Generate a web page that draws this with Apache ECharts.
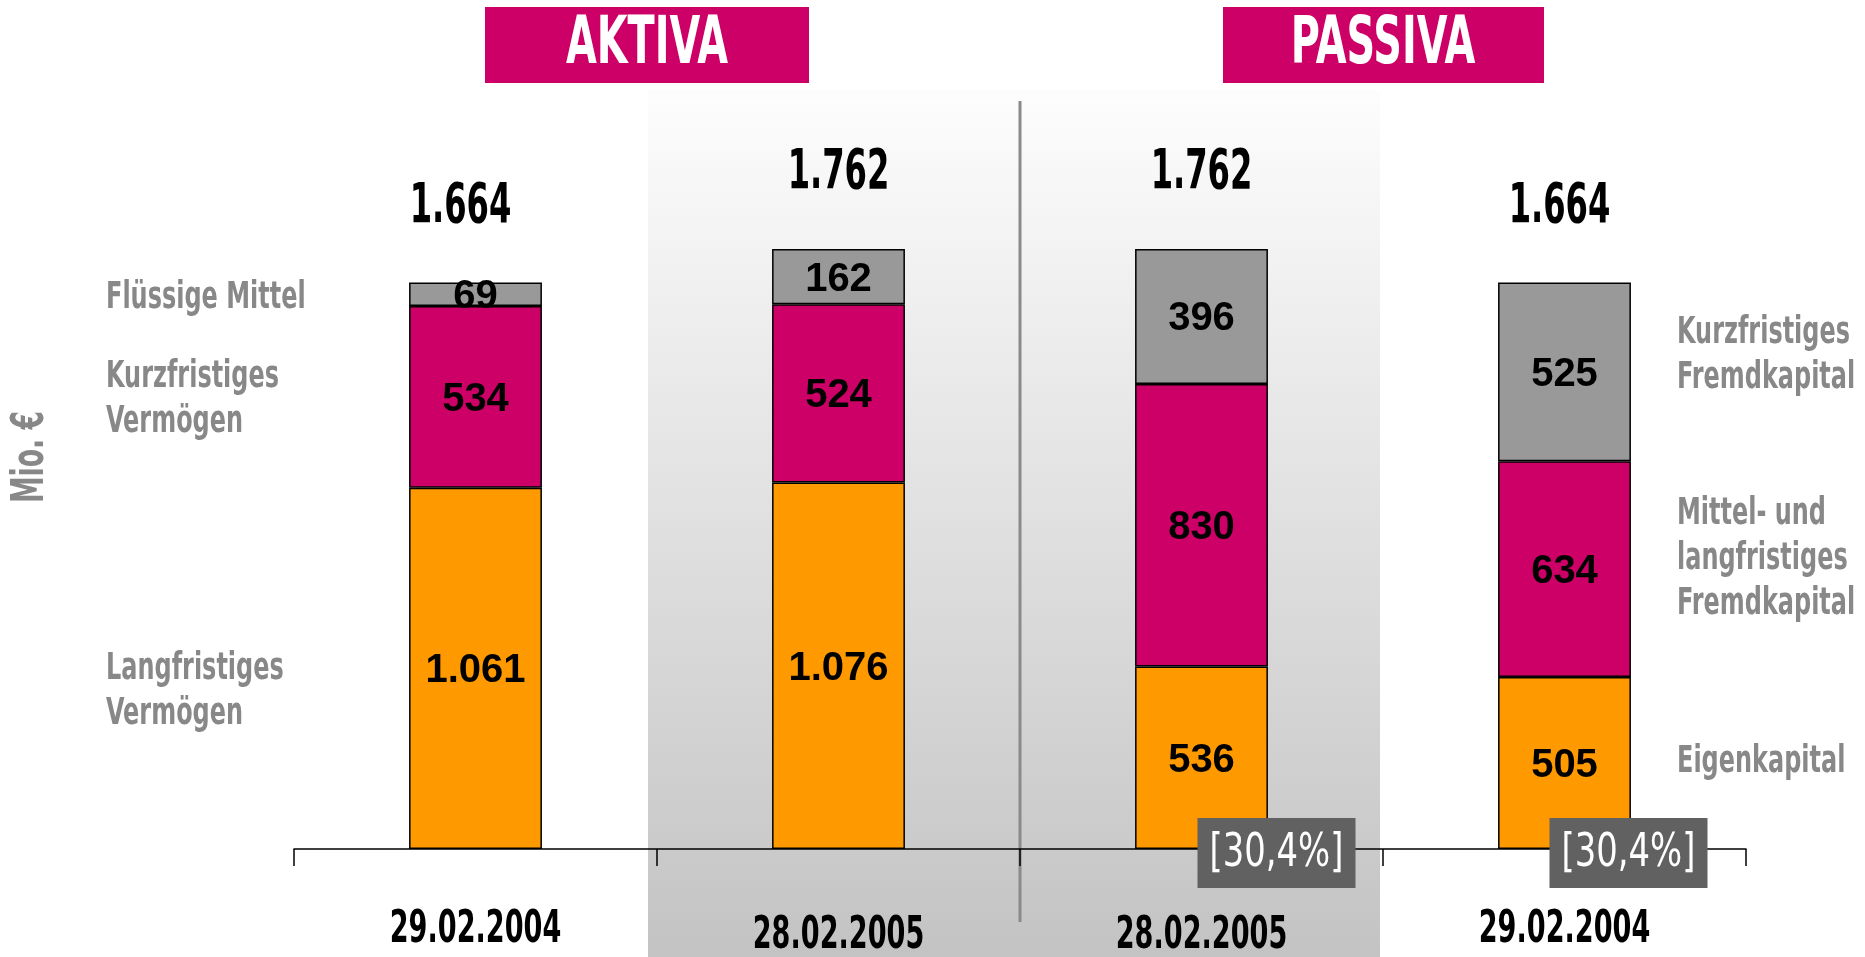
<!DOCTYPE html>
<html><head><meta charset="utf-8">
<script src="https://cdn.jsdelivr.net/npm/echarts@6/dist/echarts.min.js"></script>
<style>html,body{margin:0;padding:0;background:#fff;}#c{width:1865px;height:957px;}</style>
</head><body><div id="c"></div>
<script>
const categories = ['29.02.2004', '28.02.2005', '28.02.2005', '29.02.2004'];
const bottomValues = [1061, 1076, 536, 505];   // Langfristiges Vermögen / Eigenkapital
const middleValues = [534, 524, 830, 634];     // Kurzfristiges Vermögen / Mittel- und langfristiges FK
const topValues = [69, 162, 396, 525];         // Flüssige Mittel / Kurzfristiges FK
const totals = [1664, 1762, 1762, 1664];
const ratioLabels = ['', '', '[30,4%]', '[30,4%]'];
const groupTitles = ['AKTIVA', 'PASSIVA'];
const leftLabels = ['Flüssige Mittel', 'Kurzfristiges\nVermögen', 'Langfristiges\nVermögen'];
const rightLabels = ['Kurzfristiges\nFremdkapital', 'Mittel- und\nlangfristiges\nFremdkapital', 'Eigenkapital'];
const yUnit = 'Mio. €';

const COND = "'DejaVu Sans Condensed','Liberation Sans Narrow',sans-serif";
const SANS = "'Liberation Sans',Arial,sans-serif";
const fmt = v => String(v).replace(/\B(?=(\d{3})+(?!\d))/g, '.');

const ORANGE = '#FF9900', MAGENTA = '#CC0066', GREY = '#999999';

const chart = echarts.init(document.getElementById('c'), null, {renderer: 'canvas'});

function barSeries(name, data, color) {
  return {
    name, type: 'bar', stack: 'bal', data, barWidth: '36.6%',
    itemStyle: {color, borderColor: '#000', borderWidth: 1.5},
    label: {show: true, position: 'inside', offset: [0, 3], formatter: p => fmt(p.value),
      color: '#000', fontSize: 40, fontWeight: 'bold', fontFamily: SANS},
    z: 3
  };
}

chart.setOption({
  animation: false,
  grid: {left: 294, right: 119, top: 168, bottom: 108},
  xAxis: {
    type: 'category', data: categories,
    axisLine: {show: true, lineStyle: {color: '#000', width: 1.5}},
    axisTick: {show: true, length: 17, lineStyle: {color: '#000', width: 1.5}},
    axisLabel: {show: false},
    z: 5
  },
  yAxis: {type: 'value', min: 0, max: 2000, show: false},
  series: [
    barSeries('bottom', bottomValues, ORANGE),
    barSeries('middle', middleValues, MAGENTA),
    barSeries('top', topValues, GREY)
  ]
});

// condensed text helper (scaled horizontally to imitate the condensed typeface)
function ctext(x, y, text, size, weight, fill, sx, align, extra) {
  return Object.assign({
    type: 'text', x, y, scaleX: sx, z: 30, silent: true,
    style: {text, font: weight + ' ' + size + 'px ' + COND, fill,
      textAlign: align || 'center', textVerticalAlign: 'middle'}
  }, extra || {});
}

const px = (i, v) => chart.convertToPixel({xAxisIndex: 0, yAxisIndex: 0}, [i, v]);
const cxs = categories.map((c, i) => px(i, 0)[0]);
const axisY = px(0, 0)[1];
const b01 = (cxs[0] + cxs[1]) / 2, b12 = (cxs[1] + cxs[2]) / 2, b23 = (cxs[2] + cxs[3]) / 2;

const graphic = [
  {type: 'rect', z: -10, silent: true,
    shape: {x: b01 - 9, y: 90, width: (b23 - 3) - (b01 - 9), height: 957 - 90},
    style: {fill: new echarts.graphic.LinearGradient(0, 0, 0, 1, [
      {offset: 0, color: '#fdfdfd'}, {offset: 1, color: '#c3c3c3'}])}},
  {type: 'line', z: 1, silent: true, shape: {x1: b12, y1: 101, x2: b12, y2: 922},
    style: {stroke: '#8a8a8a', lineWidth: 3}},
  {type: 'rect', z: 1, shape: {x: 485, y: 7, width: 324, height: 76}, style: {fill: MAGENTA}},
  {type: 'rect', z: 1, shape: {x: 1223, y: 7, width: 321, height: 76}, style: {fill: MAGENTA}},
  ctext(647, 46, groupTitles[0], 66, 'bold', '#fff', 0.67),
  ctext(1383, 46, groupTitles[1], 66, 'bold', '#fff', 0.67),
  ctext(31, 457, yUnit, 45, 'bold', '#888', 0.66, 'center', {rotation: Math.PI / 2})
];

// totals above each stack
const totalShift = [-15, 0, 0, -5];
totals.forEach((t, i) => {
  const p = px(i, t);
  graphic.push(ctext(p[0] + totalShift[i], p[1] - 75, fmt(t), 55, 'bold', '#000', 0.65));
});

// category labels under the axis
categories.forEach((c, i) => {
  const dy = (i === 1 || i === 2) ? 88 : 82;
  graphic.push(ctext(cxs[i], axisY + dy, c, 44, 'bold', '#000', 0.685));
});

// equity ratio boxes
const boxShift = [0, 0, 75, 64];
ratioLabels.forEach((t, i) => {
  if (!t) return;
  const p = px(i, 0);
  const cx = p[0] + boxShift[i], cy = p[1] + 4;
  graphic.push({type: 'rect', z: 28, silent: true,
    shape: {x: cx - 79, y: cy - 35, width: 158, height: 70}, style: {fill: '#616161'}});
  graphic.push(ctext(cx, cy + 1, t, 47, 'normal', '#fff', 0.8));
});

const leftX = 106, rightX = 1677;
const leftY = [298, 400, 692];
const rightY = [356, 559, 762];
leftLabels.forEach((t, i) => graphic.push(ctext(leftX, leftY[i], t, 37, 'bold', '#888', 0.72, 'left',
  {style: {text: t, font: 'bold 37px ' + COND, fill: '#888', textAlign: 'left', textVerticalAlign: 'middle', lineHeight: 45}})));
rightLabels.forEach((t, i) => graphic.push(ctext(rightX, rightY[i], t, 37, 'bold', '#888', 0.72, 'left',
  {style: {text: t, font: 'bold 37px ' + COND, fill: '#888', textAlign: 'left', textVerticalAlign: 'middle', lineHeight: 45}})));

chart.setOption({graphic});
</script></body></html>
